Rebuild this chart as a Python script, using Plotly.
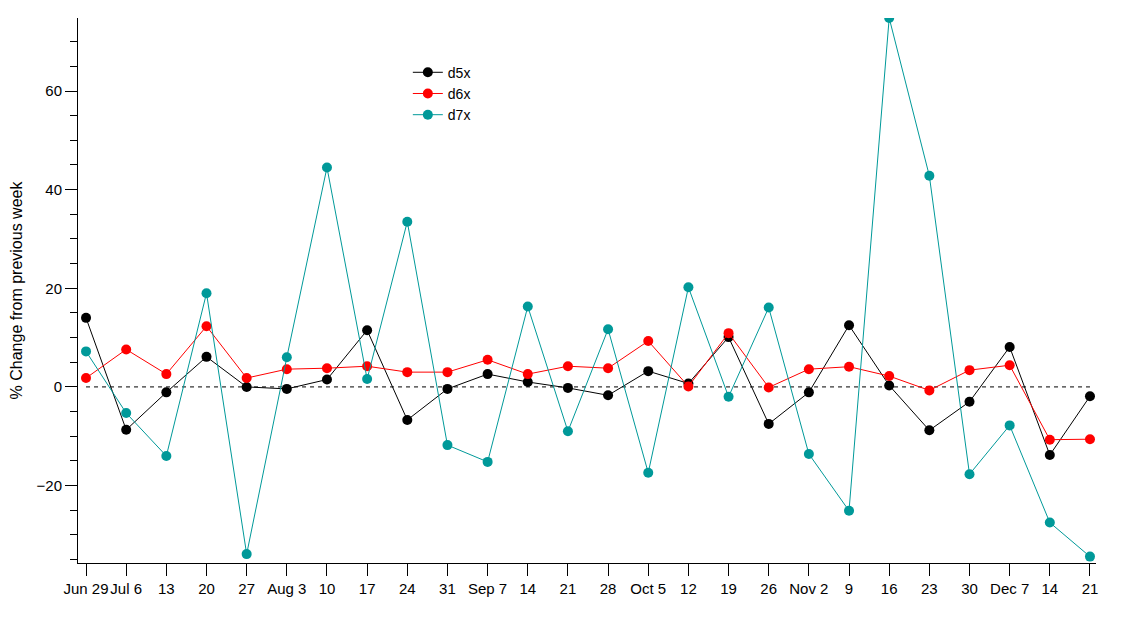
import plotly.graph_objects as go

weeks = ["Jun 29", "Jul 6", "13", "20", "27", "Aug 3", "10", "17", "24", "31",
         "Sep 7", "14", "21", "28", "Oct 5", "12", "19", "26", "Nov 2", "9",
         "16", "23", "30", "Dec 7", "14", "21"]

d5x = [14.0, -8.7, -1.1, 6.1, 0.0, -0.4, 1.5, 11.5, -6.7, -0.4,
       2.6, 1.0, -0.2, -1.7, 3.2, 0.7, 10.1, -7.5, -1.1, 12.5,
       0.3, -8.8, -3.0, 8.1, -13.8, -1.9]
d6x = [1.8, 7.6, 2.6, 12.3, 1.8, 3.6, 3.8, 4.2, 3.0, 3.0,
       5.5, 2.6, 4.2, 3.8, 9.3, 0.1, 10.9, -0.1, 3.6, 4.1,
       2.2, -0.7, 3.4, 4.4, -10.7, -10.6]
d7x = [7.2, -5.3, -14.0, 19.0, -33.9, 6.0, 44.5, 1.6, 33.5, -11.8,
       -15.2, 16.3, -9.0, 11.7, -17.4, 20.2, -2.0, 16.1, -13.6, -25.1,
       74.8, 42.8, -17.7, -7.8, -27.5, -34.4]

series = [("d5x", d5x, "#000000"), ("d6x", d6x, "#ff0000"), ("d7x", d7x, "#009999")]

# week labels repeat (14, 21), so plot against the week index
pos = list(range(len(weeks)))

fig = go.Figure()

# dashed zero reference line
fig.add_trace(go.Scatter(
    x=[pos[0], pos[-1]], y=[0, 0], mode="lines",
    line=dict(color="black", width=1, dash="4px,4px"),
    showlegend=False, hoverinfo="skip",
))

for name, vals, col in series:
    fig.add_trace(go.Scatter(
        x=pos, y=vals, name=name, mode="lines+markers",
        line=dict(color=col, width=1),
        marker=dict(color=col, size=10, symbol="circle"),
    ))

# page body adds an 8px margin, so the figure is a bit smaller than the window
fig.update_layout(
    width=1124, height=613,
    margin=dict(l=70, r=36, t=10, b=58),
    paper_bgcolor="white", plot_bgcolor="white",
    font=dict(family="Liberation Sans, Arial", size=15, color="black"),
    showlegend=True,
    legend=dict(x=0.324, y=0.929, xanchor="left", yanchor="top",
                bgcolor="rgba(0,0,0,0)", font=dict(size=14),
                tracegroupgap=0, itemwidth=30),
)
fig.update_xaxes(
    range=[-0.2, 25.15], tickvals=pos, ticktext=weeks, tickangle=0,
    showgrid=False, zeroline=False, automargin=False,
    showline=True, linecolor="black", linewidth=1,
    ticks="outside", ticklen=12, tickcolor="black",
)
fig.update_yaxes(
    range=[-35.7, 74.8], dtick=20, tick0=0,
    showgrid=False, zeroline=False, automargin=False,
    showline=True, linecolor="black", linewidth=1,
    ticks="outside", ticklen=12, tickcolor="black",
    minor=dict(dtick=5, ticks="outside", ticklen=7, tickcolor="black"),
    title=dict(text="% Change from previous week", standoff=20,
               font=dict(size=16)),
)

fig.write_html("out.html")
